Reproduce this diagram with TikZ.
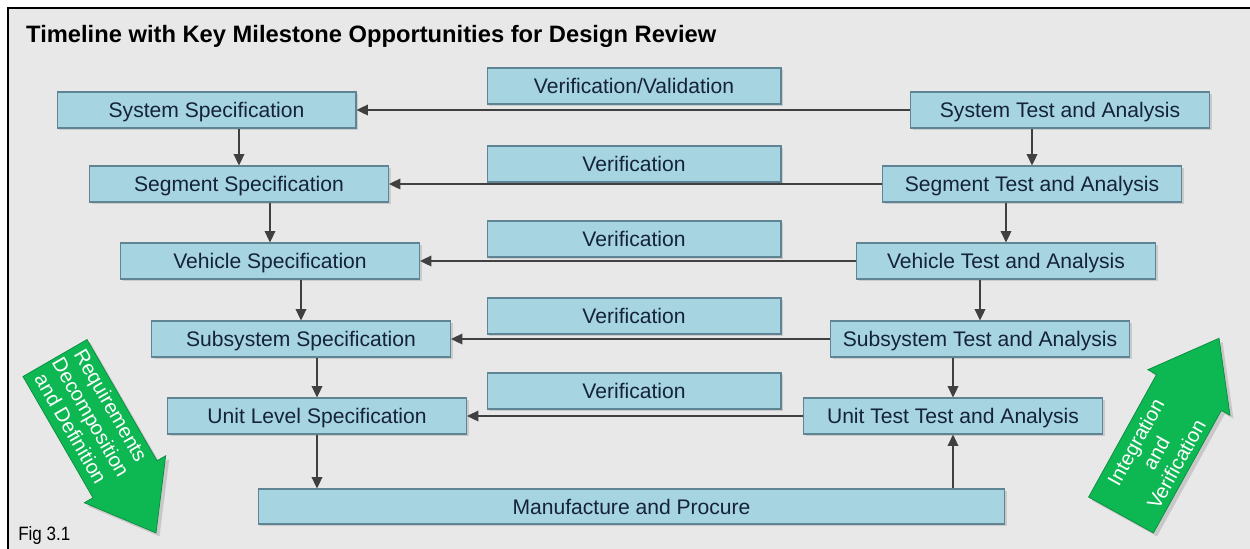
\documentclass[tikz,border=0pt]{standalone}
\usepackage{fontspec}
\setmainfont{Liberation Sans}
\usetikzlibrary{shadows,arrows.meta}
\definecolor{bg}{HTML}{E8E8E8}
\definecolor{boxfill}{HTML}{A6D4E1}
\definecolor{boxdraw}{HTML}{5F8594}
\definecolor{boxtext}{HTML}{15233A}
\definecolor{arr}{HTML}{404040}
\definecolor{grn}{HTML}{0DB853}
\begin{document}
\begin{tikzpicture}[x=0.02cm,y=-0.02cm,
  box/.style={draw=boxdraw, line width=0.6pt, fill=boxfill, text=boxtext,
    minimum height=0.72cm, minimum width=5.98cm, inner sep=0pt,
    text height=8.6pt, text depth=0pt,
    font=\fontsize{12}{14}\selectfont,
    drop shadow={shadow xshift=1.3pt, shadow yshift=-1.3pt, opacity=0.28}},
  vbox/.style={box, minimum width=5.88cm},
  conn/.style={draw=arr, line width=1.1pt, -{Triangle[length=6.5pt,width=6pt]}},
  bigarrow/.style={fill=grn, draw=grn!75!black, line width=0.4pt,
    drop shadow={shadow xshift=2pt, shadow yshift=-2pt, opacity=0.3}},
  arrtext/.style={text=white, align=center, font=\fontsize{11.5}{13.2}\selectfont, inner sep=0pt}
]
\useasboundingbox (0,0) rectangle (1250,548);
\fill[white] (0,0) rectangle (1250,548);
\draw[line width=1.6pt, fill=bg] (8,8) rectangle (1262,560);

\node[anchor=west, font=\bfseries\fontsize{13.5}{15}\selectfont] (title) at (20,36) {Timeline with Key Milestone Opportunities for Design Review};
\node[anchor=west, font=\fontsize{11}{12}\selectfont, xscale=0.88, inner sep=0pt] (fig) at (18,535) {Fig 3.1};

% left column
\node[box] (ss) at (206.5,110) {System Specification};
\node[box] (sg) at (239,184) {Segment Specification};
\node[box] (vh) at (270,261) {Vehicle Specification};
\node[box] (sb) at (301,339) {Subsystem Specification};
\node[box] (ul) at (317,416) {Unit Level Specification};
% right column
\node[box] (st) at (1060,110) {System Test and Analysis};
\node[box] (sgt) at (1032,184) {Segment Test and Analysis};
\node[box] (vht) at (1006,261) {Vehicle Test and Analysis};
\node[box] (sbt) at (980,339) {Subsystem Test and Analysis};
\node[box] (ut) at (953,416) {Unit Test Test and Analysis};
% middle
\node[vbox] (vv) at (634,86) {Verification/Validation};
\node[vbox] (v1) at (634,164) {Verification};
\node[vbox] (v2) at (634,239) {Verification};
\node[vbox] (v3) at (634,316) {Verification};
\node[vbox] (v4) at (634,391) {Verification};
\node[box, minimum width=14.94cm, minimum height=0.7cm] (mp) at (631.5,506.5) {Manufacture and Procure};

% vertical connectors
\draw[conn] (ss.south -| sg.north) -- (sg.north);
\draw[conn] (sg.south -| vh.north) -- (vh.north);
\draw[conn] (vh.south -| sb.north) -- (sb.north);
\draw[conn] (sb.south -| ul.north) -- (ul.north);
\draw[conn] (ul.south) -- (ul.south |- mp.north);
\draw[conn] (st.south -| sgt.north) -- (sgt.north);
\draw[conn] (sgt.south -| vht.north) -- (vht.north);
\draw[conn] (vht.south -| sbt.north) -- (sbt.north);
\draw[conn] (sbt.south -| ut.north) -- (ut.north);
\draw[conn] (mp.north -| ut.south) -- (ut.south);
% horizontal connectors
\draw[conn] (st.west) -- (ss.east);
\draw[conn] (sgt.west) -- (sg.east);
\draw[conn] (vht.west) -- (vh.east);
\draw[conn] (sbt.west) -- (sb.east);
\draw[conn] (ut.west) -- (ul.east);

% green arrows
\draw[bigarrow] (22.96,376.5) -- (87.04,339.5) -- (157.04,460.74) -- (165.7,455.74)
  -- (156,532.93) -- (84.3,502.74) -- (92.96,497.74) -- cycle;
\node[arrtext, rotate=-60] (req) at (91,417) {Requirements\\Decomposition\\and Definition};

\draw[bigarrow] (1088.6,497.05) -- (1153.4,532.95) -- (1221.3,410.45) -- (1230,415.3)
  -- (1219,338.25) -- (1147.8,369.7) -- (1156.5,374.55) -- cycle;
\node[arrtext, rotate=61] (int) at (1156,453) {Integration\\and\\Verification};
\end{tikzpicture}
\end{document}
